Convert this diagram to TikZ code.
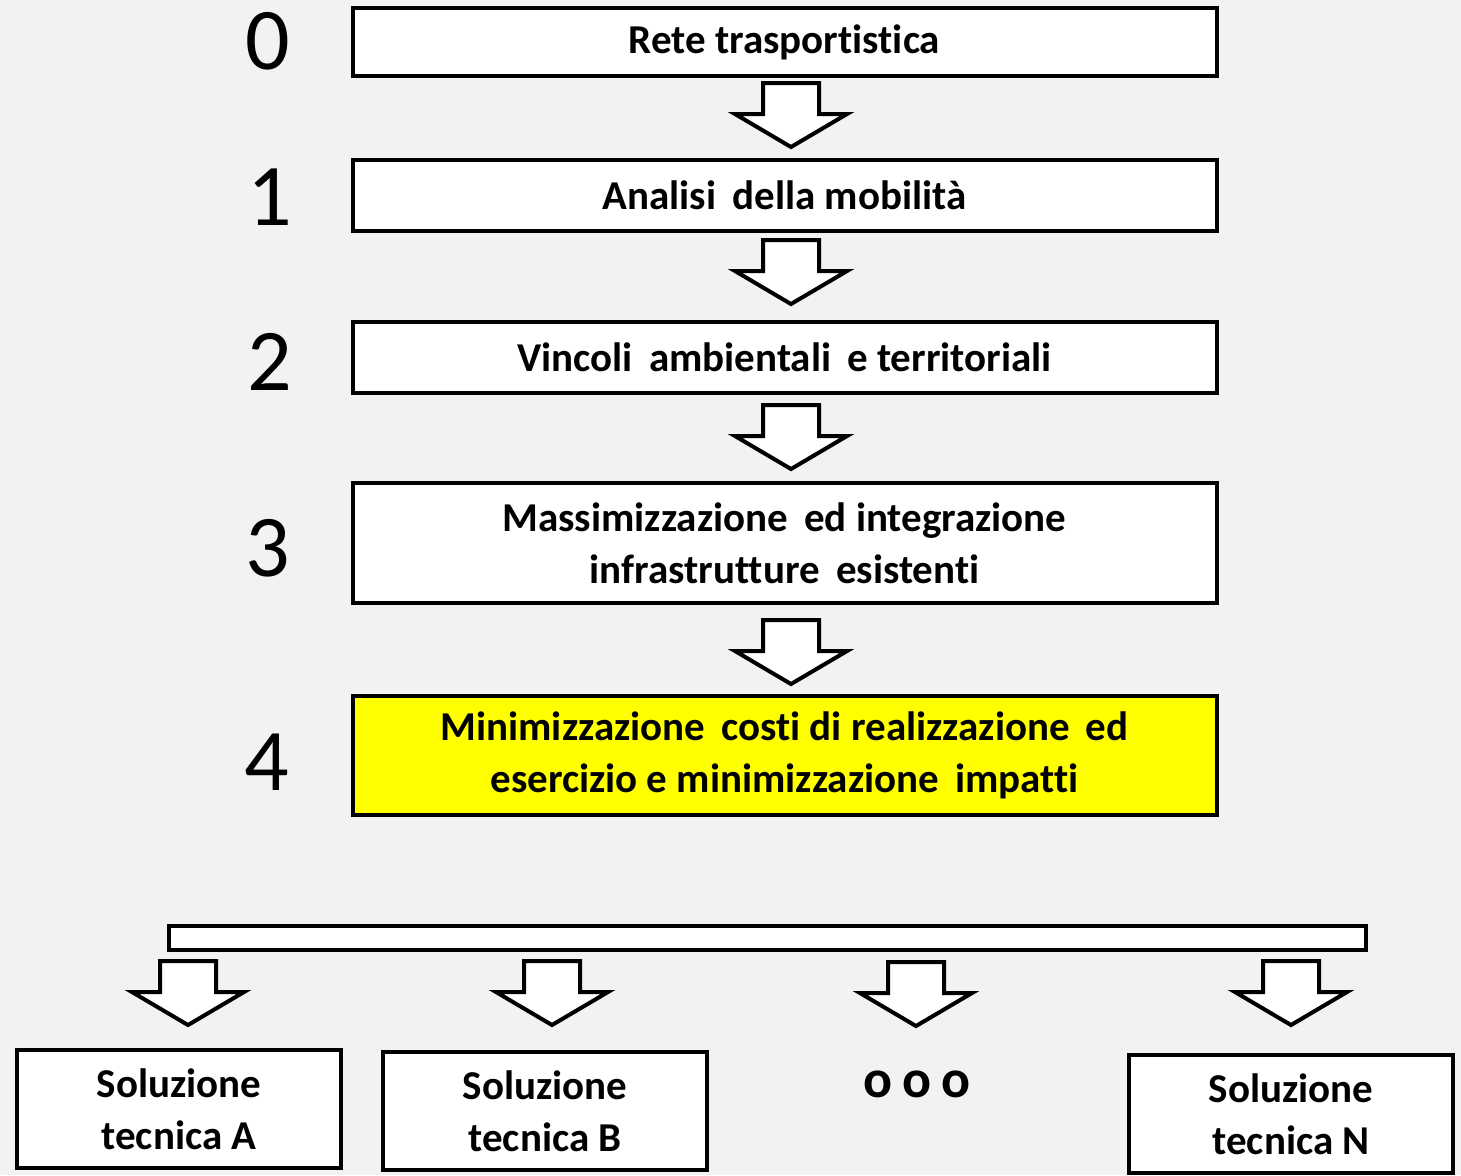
\documentclass[tikz,border=0pt]{standalone}
\usepackage{fontspec}
\setmainfont[RawFeature={-liga;-clig;-dlig;-calt}]{Carlito}
\definecolor{sfondo}{HTML}{F2F2F2}
\definecolor{giallo}{HTML}{FFFF00}

\tikzstyle{box}=[draw,line width=2pt,fill=white,minimum width=432pt,align=center,inner sep=0pt,font=\fontsize{20.5}{26}\selectfont\bfseries]
\tikzstyle{soluzione}=[box,minimum width=162pt,minimum height=59pt]
\tikzstyle{numero}=[font=\fontsize{44}{50}\selectfont]
\tikzstyle{freccia}=[draw,line width=2pt,fill=white,line join=miter]
\tikzset{giu/.pic={\path[freccia] (-28,0) -- (28,0) -- (28,31) -- (56,31) -- (0,64) -- (-56,31) -- (-28,31) -- cycle;}}

\begin{document}
\begin{tikzpicture}[x=0.5pt,y=-0.5pt]
		\fill[sfondo] (0,0) rectangle (1461,1175);
		\useasboundingbox (0,0) rectangle (1461,1175);
		% fasi
		\node[box,minimum height=34pt] (rete) at (784.5,42) {Rete trasportistica};
		\node[box,minimum height=35.5pt] (analisi) at (784.5,195.5) {Analisi\, della mobilità};
		\node[box,minimum height=35.5pt] (vincoli) at (784.5,357.5) {Vincoli\, ambientali\, e territoriali};
		\node[box,minimum height=60pt] (massimo) at (784.5,543) {Massimizzazione\, ed integrazione\\infrastrutture\, esistenti};
		\node[box,minimum height=59.5pt,fill=giallo] (minimo) at (784.5,755.5) {Minimizzazione\, costi di realizzazione\, ed\\esercizio e minimizzazione\, impatti};
		% numeri
		\node[numero] (n0) at (268,41) {0};
		\node[numero] (n1) at (270,197) {1};
		\node[numero] (n2) at (270,362) {2};
		\node[numero] (n3) at (268,548) {3};
		\node[numero] (n4) at (267,762) {4};
		% frecce
		\pic at (791,83) {giu};
		\pic at (791,240) {giu};
		\pic at (791,405) {giu};
		\pic at (791,620) {giu};
		% barra e soluzioni
		\node[draw,line width=2pt,fill=white,minimum width=598.5pt,minimum height=12pt,inner sep=0pt] (barra) at (767.5,938) {};
		\pic at (188,961) {giu};
		\pic at (552,961) {giu};
		\pic at (916,962) {giu};
		\pic at (1291,961) {giu};
		\node[soluzione] (solA) at (179,1109) {Soluzione\\tecnica A};
		\node[soluzione] (solB) at (545,1111) {Soluzione\\tecnica B};
		\node[font=\fontsize{27}{30}\selectfont\bfseries] (altre) at (917,1084) {o\hspace{5pt}o\hspace{5pt}o};
		\node[soluzione] (solN) at (1291,1114) {Soluzione\\tecnica N};
\end{tikzpicture}
\end{document}
